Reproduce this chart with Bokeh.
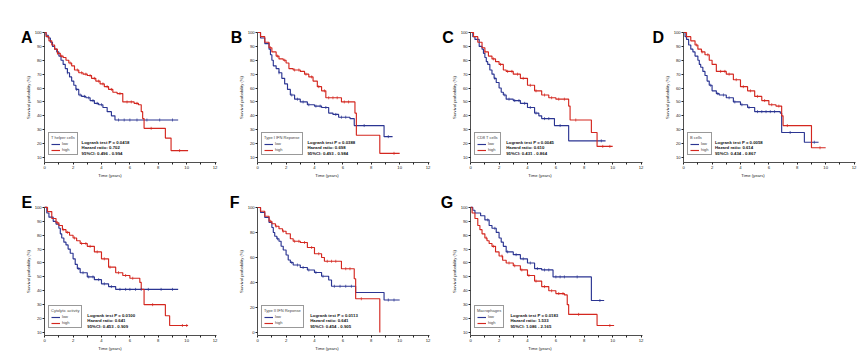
import numpy as np
from bokeh.plotting import figure
from bokeh.layouts import row, column
from bokeh.models import FixedTicker, Label, Legend, LegendItem, Range1d
from bokeh.embed import file_html
from bokeh.resources import INLINE

FONT = "Liberation Sans"
BLUE = "#2b3592"
RED = "#d4271f"

# ---------------- data ----------------
panel_letters = ["A", "B", "C", "D", "E", "F", "G"]
group_names = ["T helper cells", "Type I IFN Reponse", "CD8 T cells", "B cells",
               "Cytolytic activity", "Type II IFN Reponse", "Macrophages"]
p_values = ["0.0418", "0.0388", "0.0045", "0.0058", "0.0100", "0.0113", "0.0183"]
hazard_ratios = ["0.702", "0.698", "0.610", "0.614", "0.641", "0.641", "1.533"]
ci_low = ["0.496", "0.493", "0.431", "0.434", "0.453", "0.454", "1.086"]
ci_high = ["0.994", "0.984", "0.864", "0.867", "0.909", "0.905", "2.165"]
series_labels = ["low", "high"]

a_low_t = [0, 0.1, 0.25, 0.4, 0.55, 0.7, 0.85, 1.0, 1.15, 1.3, 1.45, 1.6, 1.75, 1.9, 2.05, 2.2, 2.4, 2.6, 2.9, 3.2, 3.5, 3.8, 4.1, 4.4, 4.7, 4.95, 9.4]
a_low_s = [100, 98, 96, 93, 90, 88, 86, 83, 80, 77, 74, 71, 68, 65, 62, 59, 55, 54, 53, 51, 49, 48, 46, 43, 40, 37, 37]
a_high_t = [0, 0.1, 0.3, 0.5, 0.7, 0.9, 1.1, 1.3, 1.5, 1.7, 1.9, 2.1, 2.4, 2.7, 3.0, 3.3, 3.6, 3.9, 4.2, 4.5, 4.8, 5.1, 5.5, 6.3, 6.6, 6.8, 6.9, 7.0, 8.5, 8.9, 10.1]
a_high_s = [100, 97, 94, 91, 88, 85, 83, 82, 80, 78, 76, 73, 71, 70, 69, 67, 65, 63, 61, 59, 57, 56, 50, 49, 48, 43, 38, 31, 24, 15, 15]
a_low_c = [1.6, 2.25, 2.5, 2.8, 3.1, 3.4, 3.7, 4.0, 5.2, 5.6, 6.0, 6.5, 7.2, 8.1, 9.0]
a_high_c = [0.9, 1.2, 1.8, 2.3, 2.6, 2.9, 3.2, 3.5, 3.8, 4.1, 4.4, 4.7, 5.3, 5.8, 6.1, 6.5, 7.5, 9.5]

b_low_t = [0, 0.2, 0.5, 0.8, 0.9, 1.0, 1.1, 1.3, 1.5, 1.7, 1.9, 2.1, 2.3, 2.6, 3.0, 3.5, 4.0, 4.5, 5.0, 5.3, 5.7, 6.5, 6.8, 8.9, 9.5]
b_low_s = [100, 96, 92, 88, 84, 80, 76, 74, 71, 67, 63, 59, 55, 52, 50, 48, 47, 46, 42, 41, 39, 38, 33, 25, 25]
b_high_t = [0, 0.2, 0.5, 0.8, 1.0, 1.3, 1.5, 1.8, 2.0, 2.2, 2.5, 3.0, 3.3, 3.6, 3.9, 4.2, 4.5, 4.8, 5.9, 6.85, 6.95, 8.6, 10.0]
b_high_s = [100, 97, 93, 89, 86, 83, 81, 80, 78, 74, 73, 72, 70, 68, 65, 61, 58, 53, 50, 42, 26, 13, 13]
b_low_c = [1.5, 2.4, 2.8, 3.2, 3.6, 4.1, 4.4, 4.8, 5.5, 5.9, 6.2, 7.5, 9.2]
b_high_c = [0.9, 1.4, 1.9, 2.6, 2.9, 3.4, 3.8, 4.3, 4.7, 5.0, 5.3, 5.6, 6.1, 6.4, 9.6]

c_low_t = [0, 0.15, 0.3, 0.6, 0.8, 0.9, 1.0, 1.1, 1.2, 1.35, 1.5, 1.65, 1.8, 2.0, 2.15, 2.3, 2.5, 3.0, 3.5, 4.0, 4.5, 4.8, 5.0, 5.9, 6.9, 9.5]
c_low_s = [100, 97, 95, 90, 88, 85, 82, 79, 77, 73, 70, 67, 64, 60, 57, 55, 52, 51, 49, 46, 42, 40, 38, 33, 22, 22]
c_high_t = [0, 0.2, 0.5, 0.8, 1.0, 1.25, 1.5, 1.75, 2.0, 2.3, 2.5, 3.0, 3.5, 4.0, 4.5, 5.0, 5.5, 6.0, 6.9, 7.0, 8.5, 8.9, 10.0]
c_high_s = [100, 97, 93, 89, 86, 83, 81, 79, 77, 73, 72, 70, 67, 62, 58, 55, 53, 52, 47, 37, 28, 18, 18]
c_low_c = [1.7, 2.4, 2.7, 3.1, 3.4, 3.8, 4.2, 4.6, 5.2, 5.5, 6.3, 9.2]
c_high_c = [1.0, 1.6, 2.1, 2.6, 2.9, 3.3, 3.7, 4.2, 4.6, 5.2, 5.7, 6.2, 6.6, 7.4, 9.3, 9.8]

d_low_t = [0, 0.1, 0.2, 0.35, 0.5, 0.65, 0.8, 1.0, 1.1, 1.2, 1.35, 1.5, 1.65, 1.8, 2.0, 2.3, 2.5, 3.0, 3.5, 4.0, 4.5, 5.0, 6.8, 6.9, 8.5, 9.5]
d_low_s = [100, 97, 95, 91, 88, 86, 83, 80, 77, 75, 72, 69, 65, 62, 58, 56, 55, 53, 50, 48, 46, 43, 42, 28, 21, 21]
d_high_t = [0, 0.2, 0.5, 0.8, 1.0, 1.25, 1.5, 1.8, 2.0, 2.3, 2.5, 3.0, 3.5, 4.0, 4.5, 5.0, 5.5, 6.0, 6.5, 6.9, 7.0, 9.0, 10.0]
d_high_s = [100, 97, 94, 91, 88, 86, 84, 80, 77, 72, 72, 70, 66, 61, 58, 54, 51, 48, 47, 40, 33, 17, 17]
d_low_c = [1.9, 2.4, 2.8, 3.2, 3.6, 4.1, 4.6, 5.2, 5.5, 5.8, 6.1, 6.4, 7.5, 9.2]
d_high_c = [0.9, 1.3, 1.7, 2.6, 2.9, 3.2, 3.7, 4.2, 4.7, 5.2, 5.7, 6.2, 6.7, 7.3, 9.6]

e_low_t = [0, 0.15, 0.3, 0.6, 0.8, 1.0, 1.1, 1.2, 1.35, 1.5, 1.65, 1.8, 2.0, 2.15, 2.3, 2.5, 3.0, 3.5, 4.0, 4.5, 5.0, 9.4]
e_low_s = [100, 96, 93, 90, 88, 85, 81, 78, 75, 73, 70, 67, 63, 59, 56, 53, 50, 48, 45, 43, 41, 41]
e_high_t = [0, 0.2, 0.5, 0.8, 1.0, 1.25, 1.5, 1.75, 2.0, 2.25, 2.5, 3.0, 3.5, 4.0, 4.5, 5.0, 5.5, 6.0, 6.7, 6.8, 7.0, 8.5, 8.8, 10.1]
e_high_s = [100, 97, 92, 89, 87, 84, 82, 80, 78, 76, 74, 72, 68, 63, 57, 53, 51, 49, 46, 41, 30, 22, 15, 15]
e_low_c = [2.4, 2.7, 3.1, 3.4, 3.8, 4.2, 4.7, 5.3, 5.7, 6.0, 6.4, 6.8, 7.3, 8.2, 9.0]
e_high_c = [0.9, 1.3, 1.6, 2.1, 2.6, 2.9, 3.2, 3.7, 4.2, 4.6, 5.2, 5.7, 6.2, 7.6, 9.7, 10.0]

f_low_t = [0, 0.2, 0.5, 0.8, 1.0, 1.1, 1.2, 1.35, 1.5, 1.65, 1.8, 2.0, 2.15, 2.3, 2.5, 3.0, 3.5, 4.0, 4.5, 5.0, 5.2, 6.9, 8.9, 10.0]
f_low_s = [100, 96, 92, 88, 84, 80, 77, 75, 73, 69, 66, 62, 58, 56, 54, 52, 50, 48, 45, 42, 37, 32, 26, 26]
f_high_t = [0, 0.2, 0.5, 0.8, 1.0, 1.25, 1.5, 1.75, 2.0, 2.3, 2.5, 3.0, 3.5, 4.0, 4.5, 4.7, 5.9, 6.8, 6.9, 8.6]
f_high_s = [100, 97, 93, 89, 87, 85, 83, 81, 79, 75, 73, 72, 68, 63, 60, 57, 51, 43, 27, 0]
f_low_c = [1.4, 2.4, 2.8, 3.2, 3.6, 4.1, 4.6, 5.4, 5.8, 6.2, 6.6, 9.2, 9.6]
f_high_c = [0.9, 1.3, 1.8, 2.6, 2.9, 3.3, 3.8, 4.3, 4.9, 5.2, 5.5, 6.2, 6.5, 7.3]

g_low_t = [0, 0.15, 0.3, 0.7, 1.0, 1.3, 1.5, 1.8, 2.0, 2.15, 2.3, 2.5, 3.0, 3.5, 4.0, 4.5, 5.0, 5.8, 8.5, 9.4]
g_low_s = [100, 98, 96, 94, 91, 87, 85, 82, 78, 75, 72, 68, 66, 63, 60, 56, 55, 50, 33, 33]
g_high_t = [0, 0.1, 0.3, 0.5, 0.65, 0.8, 1.0, 1.15, 1.3, 1.5, 1.75, 2.0, 2.25, 2.5, 3.0, 3.5, 4.0, 4.5, 5.0, 5.5, 6.0, 6.6, 6.8, 6.9, 8.9, 10.1]
g_high_s = [100, 96, 92, 87, 84, 81, 78, 76, 74, 72, 68, 65, 62, 60, 58, 55, 51, 47, 43, 40, 38, 37, 30, 23, 15, 15]
g_low_c = [1.2, 1.7, 2.6, 3.2, 3.7, 4.2, 4.7, 5.2, 5.5, 6.0, 6.3, 6.6, 7.5, 9.1]
g_high_c = [1.1, 1.6, 2.2, 2.7, 3.1, 3.6, 4.1, 4.6, 5.2, 5.7, 6.2, 6.5, 7.6, 9.8]

low_times = [a_low_t, b_low_t, c_low_t, d_low_t, e_low_t, f_low_t, g_low_t]
low_surv = [a_low_s, b_low_s, c_low_s, d_low_s, e_low_s, f_low_s, g_low_s]
high_times = [a_high_t, b_high_t, c_high_t, d_high_t, e_high_t, f_high_t, g_high_t]
high_surv = [a_high_s, b_high_s, c_high_s, d_high_s, e_high_s, f_high_s, g_high_s]
low_cens = [a_low_c, b_low_c, c_low_c, d_low_c, e_low_c, f_low_c, g_low_c]
high_cens = [a_high_c, b_high_c, c_high_c, d_high_c, e_high_c, f_high_c, g_high_c]

x_major = [0, 2, 4, 6, 8, 10, 12]
x_minor = [1, 3, 5, 7, 9, 11]
y_ticks_std = [10, 20, 30, 40, 50, 60, 70, 80, 90, 100]
y_ticks_f = [0, 20, 40, 60, 80, 100]

# ---------------- layout settings ----------------
PX_PER_YEAR = 14.2
X_END = 12.1
# per panel: (width, height, border_right, border_top, border_bottom, px_per_unit,
#             y_start, letter_x, letter_y, stats_x)
cfg = [
    (221, 182, 5, 10, 20, 1.389, 6.4, -1.66, 96.4, 2.6),
    (213, 182, 5, 10, 20, 1.389, 6.4, -1.9, 96.4, 3.5),
    (213, 182, 5, 10, 20, 1.389, 6.4, -2.0, 96.4, 2.5),
    (210, 182, 2, 10, 20, 1.389, 6.4, -2.2, 96.4, 2.2),
    (221, 174, 5, 5, 21, 1.389, 7.8, -1.64, 103.6, 3.0),
    (213, 174, 5, 5, 21, 1.25, -2.4, -1.97, 104.0, 3.7),
    (213, 174, 5, 5, 21, 1.389, 7.8, -2.1, 103.6, 2.8),
]
BORDER_LEFT = 3
stats_offsets_px = [20.5, 15.0, 9.5]
LEGEND_X = 0.28


def step_value(t, s, c):
    t = np.asarray(t, float)
    s = np.asarray(s, float)
    idx = np.searchsorted(t, np.asarray(c, float), side="right") - 1
    return s[np.clip(idx, 0, len(s) - 1)]


def make_panel(i):
    w, h, br, bt, bb, ppu, y0, lx, ly, sx = cfg[i]
    frame_w = w - BORDER_LEFT - br
    frame_h = h - bt - bb
    x0 = X_END - frame_w / PX_PER_YEAR
    y1 = y0 + frame_h / ppu
    p = figure(width=w, height=h, output_backend="svg", toolbar_location=None,
               x_range=Range1d(x0, X_END), y_range=Range1d(y0, y1),
               min_border_left=BORDER_LEFT, min_border_right=br,
               min_border_top=bt, min_border_bottom=bb)
    p.outline_line_color = None
    p.xgrid.visible = False
    p.ygrid.visible = False
    p.background_fill_color = "white"

    # curves
    r_low = p.step(low_times[i], low_surv[i], mode="after", line_color=BLUE, line_width=1.15)
    r_high = p.step(high_times[i], high_surv[i], mode="after", line_color=RED, line_width=1.15)
    p.scatter(low_cens[i], step_value(low_times[i], low_surv[i], low_cens[i]),
              marker="dash", angle=np.pi / 2, size=3, line_color=BLUE, line_width=0.7)
    p.scatter(high_cens[i], step_value(high_times[i], high_surv[i], high_cens[i]),
              marker="dash", angle=np.pi / 2, size=3, line_color=RED, line_width=0.7)

    # axes
    for ax in (p.xaxis[0], p.yaxis[0]):
        ax.axis_line_color = "#222222"
        ax.axis_line_width = 0.8
        ax.major_tick_line_color = "#222222"
        ax.minor_tick_line_color = "#222222"
        ax.major_tick_in = 0
        ax.major_tick_out = 2
        ax.minor_tick_in = 0
        ax.minor_tick_out = 2
        ax.major_label_text_font = FONT
        ax.major_label_text_font_size = "4.2px"
        ax.major_label_text_color = "#222222"
        ax.axis_label_text_font = FONT
        ax.axis_label_text_font_size = "4.2px"
        ax.axis_label_text_font_style = "normal"
        ax.axis_label_text_color = "#222222"
        ax.major_label_standoff = 1
        ax.axis_label_standoff = 1
    p.xaxis.ticker = FixedTicker(ticks=x_major, minor_ticks=x_minor)
    p.xaxis.bounds = (0, X_END)
    p.yaxis.ticker = FixedTicker(ticks=(y_ticks_f if i == 5 else y_ticks_std))
    p.yaxis.bounds = (y0, 100)
    p.yaxis.fixed_location = 0
    p.xaxis.axis_label = "Time (years)"
    p.yaxis.axis_label = "Survival probability (%)"

    # legend
    legend = Legend(items=[LegendItem(label=series_labels[0], renderers=[r_low]),
                           LegendItem(label=series_labels[1], renderers=[r_high])],
                    location=(int(round((LEGEND_X - x0) * PX_PER_YEAR)), 7),
                    title=group_names[i],
                    title_text_font=FONT, title_text_font_size="4px",
                    title_text_font_style="normal", title_standoff=1,
                    label_text_font=FONT, label_text_font_size="4px",
                    label_height=4, label_width=6, glyph_height=4, glyph_width=9,
                    label_standoff=2, spacing=1, padding=2, margin=0,
                    border_line_color="#333333", border_line_width=0.6,
                    background_fill_color="white", background_fill_alpha=1)
    p.add_layout(legend)

    # statistics text
    lines = [f"Logrank test P = {p_values[i]}",
             f"Hazard ratio: {hazard_ratios[i]}",
             f" 95%CI: {ci_low[i]} - {ci_high[i]}"]
    for txt, off in zip(lines, stats_offsets_px):
        p.add_layout(Label(x=sx, y=y0 + off / ppu, text=txt,
                           text_font=FONT, text_font_size="4.3px", text_font_style="bold",
                           text_baseline="middle", text_align="left", text_color="#111111"))

    # panel letter
    p.add_layout(Label(x=lx, y=ly, text=panel_letters[i], text_font=FONT,
                       text_font_size="16px", text_font_style="bold",
                       text_baseline="alphabetic", text_align="left", text_color="black"))
    return p


panels = [make_panel(i) for i in range(7)]
layout = column(row(panels[0:4], spacing=0), row(panels[4:7], spacing=0), spacing=0)

open("out.html", "w").write(file_html(layout, INLINE))
